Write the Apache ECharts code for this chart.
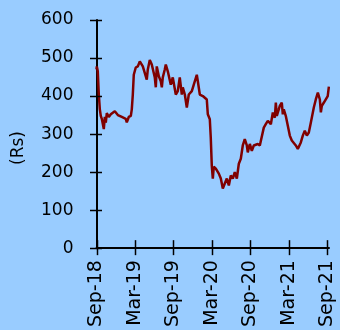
<!DOCTYPE html>
<html><head><meta charset="utf-8">
<script src="https://cdn.jsdelivr.net/npm/echarts@6/dist/echarts.min.js"></script>
<style>html,body{margin:0;padding:0;background:#99CCFF}#c{width:340px;height:330px}</style>
</head><body><div id="c"></div>
<script>
// x positions in months since Sep-2018
const monthPos = [0,0.05,0.2,0.36,0.52,0.67,0.83,1.14,1.3,1.45,1.61,1.92,2.23,2.54,2.86,3.01,3.33,3.64,3.95,4.26,4.57,4.73,5.04,5.36,5.51,5.67,5.82,6.13,6.45,6.76,6.92,7.23,7.54,7.85,8.01,8.32,8.63,8.95,9.1,9.26,9.41,9.73,10.04,10.2,10.35,10.66,10.82,11.13,11.44,11.6,11.91,12.38,12.69,13.0,13.32,13.47,13.79,14.1,14.41,14.88,15.19,15.66,15.82,16.13,16.6,16.91,17.22,17.38,17.69,17.84,18.0,18.16,18.31,18.63,19.1,19.41,19.72,20.03,20.35,20.66,20.97,21.28,21.59,21.91,22.22,22.53,22.84,23.15,23.47,23.62,23.94,24.25,24.56,25.18,25.5,25.81,26.12,26.43,26.75,27.22,27.53,27.84,28.0,28.15,28.46,28.62,28.93,29.09,29.24,29.55,29.87,30.18,30.49,30.8,31.12,31.43,31.74,31.9,32.21,32.52,32.84,33.15,33.46,33.93,34.24,34.56,34.87,35.03,35.18,35.5,35.81,36.1,36.28];
// share price (Rs)
const price = [470,478,465,404,365,348,340,313,345,330,355,345,352,348,360,361,350,355,345,350,340,331,345,348,365,404,456,475,478,491,496,478,481,443,470,495,483,460,449,423,478,452,439,423,449,470,483,465,470,430,449,404,413,449,404,423,404,370,404,413,430,456,439,404,400,395,391,352,339,291,217,183,214,209,196,183,157,170,183,165,191,183,200,183,222,235,270,287,270,252,274,256,270,274,270,272,317,326,335,326,357,343,383,348,365,374,383,352,365,348,322,296,283,287,270,261,265,278,296,309,296,304,330,370,391,409,391,357,374,383,387,400,425];
const xTickPos = [0,6,12,18,24,30,36];
const xLabels = ['Sep-18','Mar-19','Sep-19','Mar-20','Sep-20','Mar-21','Sep-21'];
const yTicks = [0,100,200,300,400,500,600];

const chart = echarts.init(document.getElementById('c'));
const font = 'DejaVu Sans';
chart.setOption({
  backgroundColor:'#99CCFF',
  animation:false,
  grid:{left:96.5, right:11, top:20, bottom:80},
  xAxis:[{
    type:'value', min:0, max:36.3, position:'bottom',
    axisLine:{show:true, onZero:false, lineStyle:{color:'#000', width:2}},
    axisTick:{show:false},
    axisLabel:{show:true, customValues:xTickPos, rotate:90, margin:12, fontFamily:font, fontSize:19, color:'#000',
      formatter:v=>xLabels[Math.round(v/6)]},
    splitLine:{show:false}
  }],
  yAxis:[{
    type:'value', min:yTicks[0], max:yTicks[yTicks.length-1], interval:100,
    axisLine:{show:true, onZero:false, lineStyle:{color:'#000', width:2}},
    axisTick:{show:false},
    axisLabel:{margin:23, fontFamily:font, fontSize:17, color:'#000'},
    splitLine:{show:false}
  }],
  series:[{
    type:'line', xAxisIndex:0, yAxisIndex:0,
    data:monthPos.map((m,i)=>[m, price[i]]),
    showSymbol:false, symbol:'none',
    lineStyle:{color:'#800000', width:2.5}, itemStyle:{color:'#800000'}
  }]
});

// tick marks crossing the axes, placed through the chart's own scales
const xAxisY = chart.convertToPixel({yAxisIndex:0}, 0);
const yAxisX = chart.convertToPixel({xAxisIndex:0}, 0);
const tickEls = [];
yTicks.forEach(v => {
  const y = Math.round(chart.convertToPixel({yAxisIndex:0}, v)) + 0.5;
  tickEls.push({type:'line', z:10, shape:{x1:yAxisX-6.5, y1:y, x2:yAxisX+5.5, y2:y}, style:{stroke:'#000', lineWidth:1.5}});
});
xTickPos.forEach(v => {
  const x = Math.round(chart.convertToPixel({xAxisIndex:0}, v)) + 0.5;
  tickEls.push({type:'line', z:10, shape:{x1:x, y1:xAxisY-8, x2:x, y2:xAxisY+7}, style:{stroke:'#000', lineWidth:1.5}});
});
tickEls.push({
  type:'text', x:18.5, y:148, rotation:Math.PI/2,
  style:{text:'(Rs)', font:'17px "DejaVu Sans"', fill:'#000', align:'center', verticalAlign:'middle'}
});
chart.setOption({graphic: tickEls});
</script></body></html>
